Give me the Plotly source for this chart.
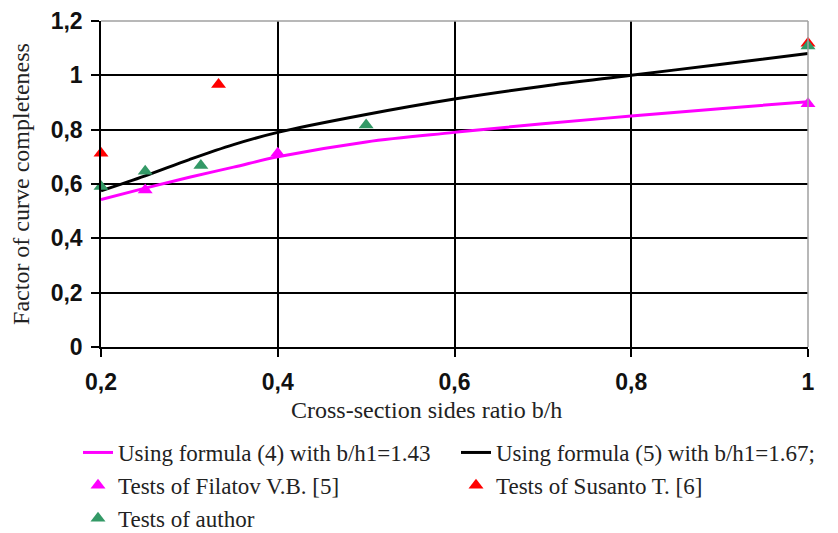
import plotly.graph_objects as go

# ---------------- data ----------------
x_formula4 = [0.2, 0.25, 0.3, 0.35, 0.4, 0.5, 0.6, 0.7, 0.8, 0.9, 1.0]
y_formula4 = [0.543, 0.585, 0.625, 0.662, 0.700, 0.755, 0.790, 0.822, 0.850, 0.877, 0.903]

x_formula5 = [0.2, 0.25, 0.3, 0.35, 0.4, 0.5, 0.6, 0.7, 0.8, 0.9, 1.0]
y_formula5 = [0.575, 0.630, 0.690, 0.745, 0.790, 0.856, 0.913, 0.960, 1.000, 1.040, 1.080]

x_filatov = [0.25, 0.4, 1.0]
y_filatov = [0.578, 0.713, 0.895]

x_susanto = [0.2, 0.333, 1.0]
y_susanto = [0.713, 0.966, 1.118]

x_author = [0.2, 0.25, 0.313, 0.5, 1.0]
y_author = [0.591, 0.647, 0.668, 0.817, 1.108]

x_tickvals = [0.2, 0.4, 0.6, 0.8, 1.0]
x_ticktext = ["0,2", "0,4", "0,6", "0,8", "1"]
y_tickvals = [0, 0.2, 0.4, 0.6, 0.8, 1.0, 1.2]
y_ticktext = ["0", "0,2", "0,4", "0,6", "0,8", "1", "1,2"]

names = [
    "Using formula (4) with b/h1=1.43",
    "Using formula (5) with b/h1=1.67;",
    "Tests of Filatov V.B. [5]",
    "Tests of Susanto T. [6]",
    "Tests of author",
]
x_title = "Cross-section sides ratio b/h"
y_title = "Factor of curve completeness"

# ---------------- figure ----------------
SERIF = "Liberation Serif"
fig = go.Figure()
fig.add_trace(go.Scatter(x=x_formula4, y=y_formula4, mode="lines", name=names[0],
                         line=dict(color="#FF00FF", width=3, shape="spline"), cliponaxis=False))
fig.add_trace(go.Scatter(x=x_formula5, y=y_formula5, mode="lines", name=names[1],
                         line=dict(color="#000000", width=3, shape="spline"), cliponaxis=False))
fig.add_trace(go.Scatter(x=x_filatov, y=y_filatov, mode="markers", name=names[2],
                         marker=dict(symbol="triangle-up", size=13, color="#FF00FF"), cliponaxis=False))
fig.add_trace(go.Scatter(x=x_susanto, y=y_susanto, mode="markers", name=names[3],
                         marker=dict(symbol="triangle-up", size=13, color="#FF0000"), cliponaxis=False))
fig.add_trace(go.Scatter(x=x_author, y=y_author, mode="markers", name=names[4],
                         marker=dict(symbol="triangle-up", size=13, color="#339966"), cliponaxis=False))

axis_common = dict(
    showline=True, linecolor="black", linewidth=1.5,
    showgrid=True, gridcolor="black", gridwidth=1.5,
    ticks="outside", ticklen=8, tickwidth=1.5, tickcolor="black",
    tickfont=dict(family="Liberation Sans", size=23, color="#111111", weight="bold"),
    zeroline=False,
)
fig.update_xaxes(range=[0.2, 1.0], tickvals=x_tickvals, ticktext=x_ticktext,
                 ticklabelstandoff=6, **axis_common)
fig.update_yaxes(range=[0, 1.2], tickvals=y_tickvals, ticktext=y_ticktext,
                 title=dict(text=y_title, font=dict(family=SERIF, size=24, color="#222222"), standoff=14),
                 ticklabelstandoff=4, **axis_common)

# grey plot-area border on top and right
fig.add_shape(type="line", xref="paper", yref="paper", x0=0, x1=1, y0=1, y1=1,
              line=dict(color="#A0A0A0", width=1.5), layer="above")
fig.add_shape(type="line", xref="paper", yref="paper", x0=1, x1=1, y0=0, y1=1,
              line=dict(color="#A0A0A0", width=1.5), layer="above")

fig.add_annotation(text=x_title, xref="paper", yref="paper",
                   x=(426 - 101) / 707, y=(347 - 410) / 326, xanchor="center", yanchor="middle",
                   showarrow=False, font=dict(family=SERIF, size=24, color="#222222"))

fig.update_layout(
    width=838, height=533,
    margin=dict(l=101, r=30, t=21, b=186, autoexpand=False),
    paper_bgcolor="white", plot_bgcolor="white",
    showlegend=True,
    legend=dict(orientation="h", x=(78 - 101) / 707, xanchor="left",
                y=(347 - 431) / 326, yanchor="top",
                entrywidth=333, traceorder="normal",
                font=dict(family=SERIF, size=23, color="#222222"),
                bgcolor="rgba(0,0,0,0)"),
)

fig.write_html("out.html", config={"displayModeBar": False},
               post_script="document.body.style.margin='0';document.body.style.overflow='hidden';")
